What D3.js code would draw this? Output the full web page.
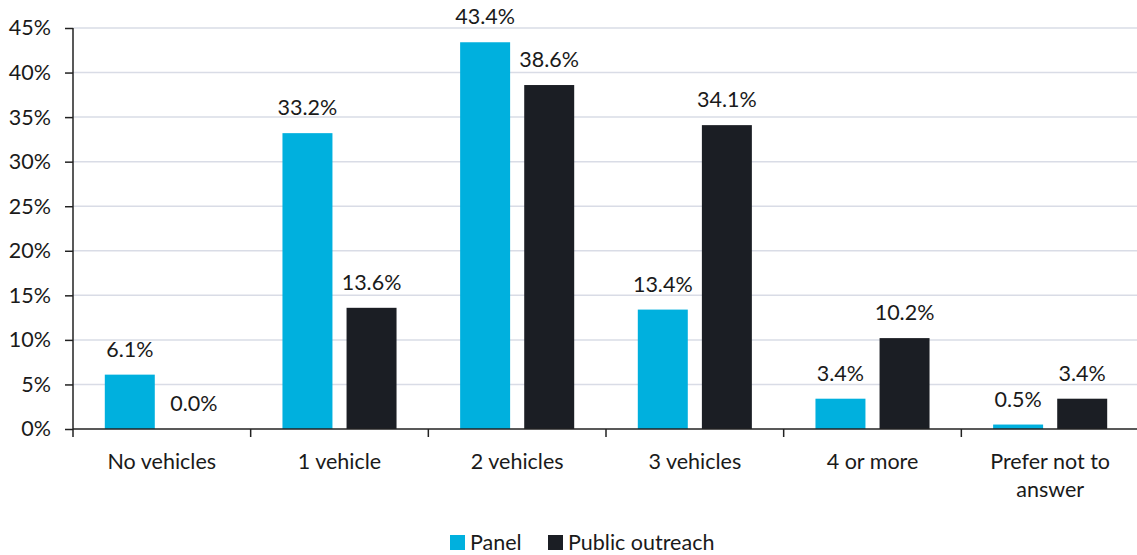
<!DOCTYPE html>
<html>
<head>
<meta charset="utf-8">
<script src="https://cdn.jsdelivr.net/npm/d3@7"></script>
<style>
  html, body { margin: 0; padding: 0; background: #fff; }
  svg text { font-family: Lato, "Open Sans", sans-serif; fill: #1a1a1a; }
</style>
</head>
<body>
<svg id="chart" width="1137" height="555"></svg>
<script>
// Household vehicle ownership: survey panel vs public outreach responses
const categories = ["No vehicles", "1 vehicle", "2 vehicles", "3 vehicles", "4 or more", "Prefer not to answer"];
const seriesNames = ["Panel", "Public outreach"];
const panelValues = [6.1, 33.2, 43.4, 13.4, 3.4, 0.5];
const outreachValues = [0.0, 13.6, 38.6, 34.1, 10.2, 3.4];
const yTicks = [0, 5, 10, 15, 20, 25, 30, 35, 40, 45];
const colors = ["#00b0de", "#1b1e24"];

const FS = 21.5;
const svg = d3.select("#chart");
const margin = { left: 73, right: -2, top: 28, bottom: 126 };
const W = 1137, H = 555;
const innerW = W - margin.left - margin.right;
const innerH = H - margin.top - margin.bottom;

const g = svg.append("g").attr("transform", `translate(${margin.left},${margin.top})`);

const x0 = d3.scaleBand().domain(categories).range([0, innerW]).paddingInner(0).paddingOuter(0);
const x1 = d3.scaleBand().domain(seriesNames).range([31.8, x0.bandwidth() - 31.8]).paddingInner(0.22);
const y = d3.scaleLinear().domain([0, 45]).range([innerH, 0]);

// Gridlines
g.append("g")
  .selectAll("line")
  .data(yTicks.filter(t => t > 0))
  .join("line")
  .attr("x1", 0).attr("x2", innerW)
  .attr("y1", d => y(d)).attr("y2", d => y(d))
  .attr("stroke", "#d9dce6").attr("stroke-width", 1.5);

// Bars
const rows = categories.map((c, i) => ({ cat: c, vals: [panelValues[i], outreachValues[i]] }));
const groups = g.selectAll(".grp").data(rows).join("g")
  .attr("class", "grp")
  .attr("transform", d => `translate(${x0(d.cat)},0)`);

groups.selectAll("rect")
  .data(d => d.vals.map((v, k) => ({ v, k })))
  .join("rect")
  .attr("x", d => x1(seriesNames[d.k]))
  .attr("width", x1.bandwidth())
  .attr("y", d => y(d.v))
  .attr("height", d => innerH - y(d.v))
  .attr("fill", d => colors[d.k]);

groups.selectAll("text.val")
  .data(d => d.vals.map((v, k) => ({ v, k })))
  .join("text")
  .attr("class", "val")
  .attr("x", d => x1(seriesNames[d.k]) + x1.bandwidth() / 2)
  .attr("y", d => y(d.v) - 18)
  .attr("text-anchor", "middle")
  .attr("font-size", FS)
  .text(d => d.v.toFixed(1) + "%");

// Y axis
const yAxis = g.append("g")
  .call(d3.axisLeft(y).tickValues(yTicks).tickFormat(d => d + "%").tickSize(8).tickPadding(14));
yAxis.select(".domain").attr("stroke", "#222").attr("stroke-width", 1.5).attr("d", `M0,${innerH}V0`);
yAxis.selectAll(".tick line").attr("stroke", "#222").attr("stroke-width", 1.5);
yAxis.selectAll(".tick text").attr("font-size", FS).attr("fill", "#1a1a1a");

// X axis with category separators
const xAxis = g.append("g").attr("transform", `translate(0,${innerH})`);
xAxis.append("line").attr("x1", 0).attr("x2", innerW).attr("stroke", "#222").attr("stroke-width", 1.5);
xAxis.selectAll("line.sep")
  .data(d3.range(categories.length + 1))
  .join("line")
  .attr("class", "sep")
  .attr("x1", i => i * x0.bandwidth()).attr("x2", i => i * x0.bandwidth())
  .attr("y1", 0).attr("y2", 8)
  .attr("stroke", "#222").attr("stroke-width", 1.5);

const labelLines = { "Prefer not to answer": ["Prefer not to", "answer"] };
xAxis.selectAll("text.cat")
  .data(categories)
  .join("text")
  .attr("class", "cat")
  .attr("text-anchor", "middle")
  .attr("font-size", FS)
  .each(function (d) {
    const lines = labelLines[d] || [d];
    d3.select(this).selectAll("tspan").data(lines).join("tspan")
      .attr("x", x0(d) + x0.bandwidth() / 2)
      .attr("y", (l, i) => 40 + i * 28)
      .text(l => l);
  });

// Legend
const legend = svg.append("g").attr("transform", "translate(450,535)");
const legendX = [0, 98];
seriesNames.forEach((s, k) => {
  const lg = legend.append("g").attr("transform", `translate(${legendX[k]},0)`);
  lg.append("rect").attr("width", 15).attr("height", 15).attr("fill", colors[k]);
  lg.append("text").attr("x", 20).attr("y", 15).attr("font-size", FS).text(s);
});
</script>
</body>
</html>
